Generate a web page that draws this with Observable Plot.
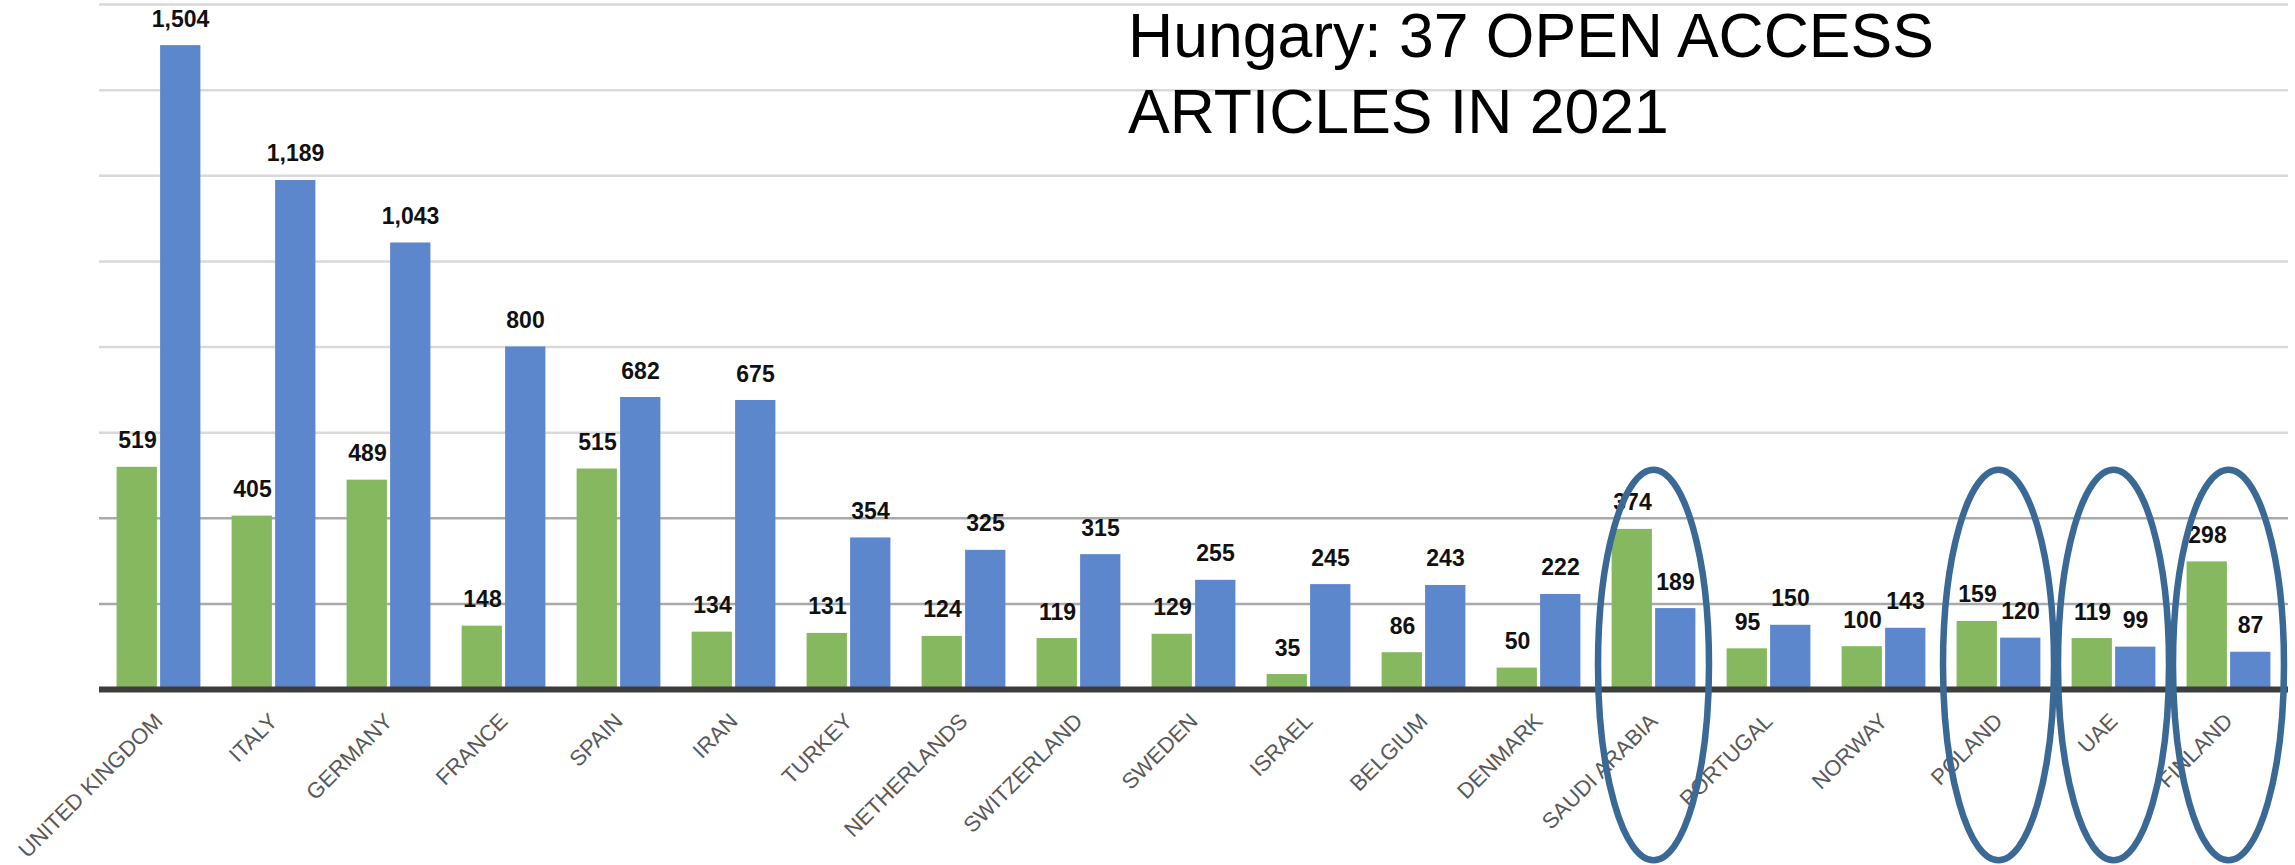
<!DOCTYPE html>
<html>
<head>
<meta charset="utf-8">
<script src="https://cdn.jsdelivr.net/npm/d3@7"></script>
<script src="https://cdn.jsdelivr.net/npm/@observablehq/plot@0.6"></script>
<style>
  html, body { margin: 0; padding: 0; background: #fff; }
  #wrap { position: relative; width: 2295px; height: 865px; overflow: hidden; }
  #title {
    position: absolute; left: 1128px; top: 0; z-index: 2;
    font-family: "Liberation Sans", Arial, sans-serif;
    font-size: 62.5px; color: #000; white-space: nowrap;
  }
  #title div { line-height: 71px; }
  #title div + div { margin-top: 5px; }
</style>
</head>
<body>
<div id="wrap"></div>
<script>
// ---- data ----
const countries = ["UNITED KINGDOM", "ITALY", "GERMANY", "FRANCE", "SPAIN", "IRAN", "TURKEY",
  "NETHERLANDS", "SWITZERLAND", "SWEDEN", "ISRAEL", "BELGIUM", "DENMARK", "SAUDI ARABIA",
  "PORTUGAL", "NORWAY", "POLAND", "UAE", "FINLAND"];
const seriesGreen = [519, 405, 489, 148, 515, 134, 131, 124, 119, 129, 35, 86, 50, 374, 95, 100, 159, 119, 298];
const seriesBlue = [1504, 1189, 1043, 800, 682, 675, 354, 325, 315, 255, 245, 243, 222, 189, 150, 143, 120, 99, 87];
const gridTicks = [200, 400, 600, 800, 1000, 1200, 1400, 1600];
const highlighted = ["SAUDI ARABIA", "POLAND", "UAE", "FINLAND"];
const ellipseTopValue = 512;     // data units
const ellipseBottomValue = -400; // data units (extends below the axis)
const titleLines = ["Hungary: 37 OPEN ACCESS", "ARTICLES IN 2021"];

const rows = countries.map((c, i) => ({country: c, green: seriesGreen[i], blue: seriesBlue[i]}));
const fmt = d3.format(",");

const chart = Plot.plot({
  width: 2295,
  height: 865,
  marginTop: 4,
  marginBottom: 176,
  marginLeft: 99,
  marginRight: 7,
  style: {fontFamily: "'Liberation Sans', Arial, sans-serif", background: "#fff"},
  x: {type: "band", domain: countries, padding: 0, axis: null},
  y: {domain: [0, 1600], axis: null},
  marks: [
    Plot.ruleY(gridTicks.filter(v => v >= 600), {stroke: "#d9d9d9", strokeWidth: 2.5}),
    Plot.ruleY(gridTicks.filter(v => v < 600), {stroke: "#a9a9a9", strokeWidth: 2.5}),
    Plot.barY(rows, {x: "country", y: "green", fill: "#86b95f", insetLeft: 15.6, insetRight: 59.1}),
    Plot.barY(rows, {x: "country", y: "blue", fill: "#5d87cc", insetLeft: 59.1, insetRight: 15.6}),
    Plot.ruleY([0], {stroke: "#3d3d3d", strokeWidth: 6}),
    Plot.text(rows, {x: "country", y: "green", text: d => fmt(d.green), dx: -21.5, dy: -19,
      lineAnchor: "bottom", fontWeight: "bold", fontSize: 23, fill: "#111"}),
    Plot.text(rows, {x: "country", y: "blue", text: d => fmt(d.blue), dx: 21.5, dy: -19,
      lineAnchor: "bottom", fontWeight: "bold", fontSize: 23, fill: "#111"}),
    Plot.text(countries, {x: d => d, frameAnchor: "bottom", rotate: -45, textAnchor: "end",
      lineAnchor: "bottom", dx: 5, dy: 33, fontSize: 22, fill: "#595959"})
  ]
});

const wrap = document.getElementById("wrap");
wrap.appendChild(chart);

// ellipse annotations positioned with the chart's own scales
const xs = chart.scale("x");
const ys = chart.scale("y");
const svgNode = chart.tagName.toLowerCase() === "svg" ? chart : chart.querySelector("svg");
const yTop = ys.apply(ellipseTopValue);
const yBottom = ys.apply(ellipseBottomValue);
const g = d3.select(svgNode).append("g").attr("aria-label", "highlight ellipses");
highlighted.forEach(c => {
  const cx = xs.apply(c) + xs.bandwidth / 2;
  g.append("ellipse")
    .attr("cx", cx)
    .attr("cy", (yTop + yBottom) / 2)
    .attr("rx", xs.bandwidth / 2 - 2)
    .attr("ry", (yBottom - yTop) / 2)
    .attr("fill", "none")
    .attr("stroke", "#3a6996")
    .attr("stroke-width", 6.5);
});

const title = document.createElement("div");
title.id = "title";
titleLines.forEach(t => {
  const line = document.createElement("div");
  line.textContent = t;
  title.appendChild(line);
});
wrap.appendChild(title);
</script>
</body>
</html>
